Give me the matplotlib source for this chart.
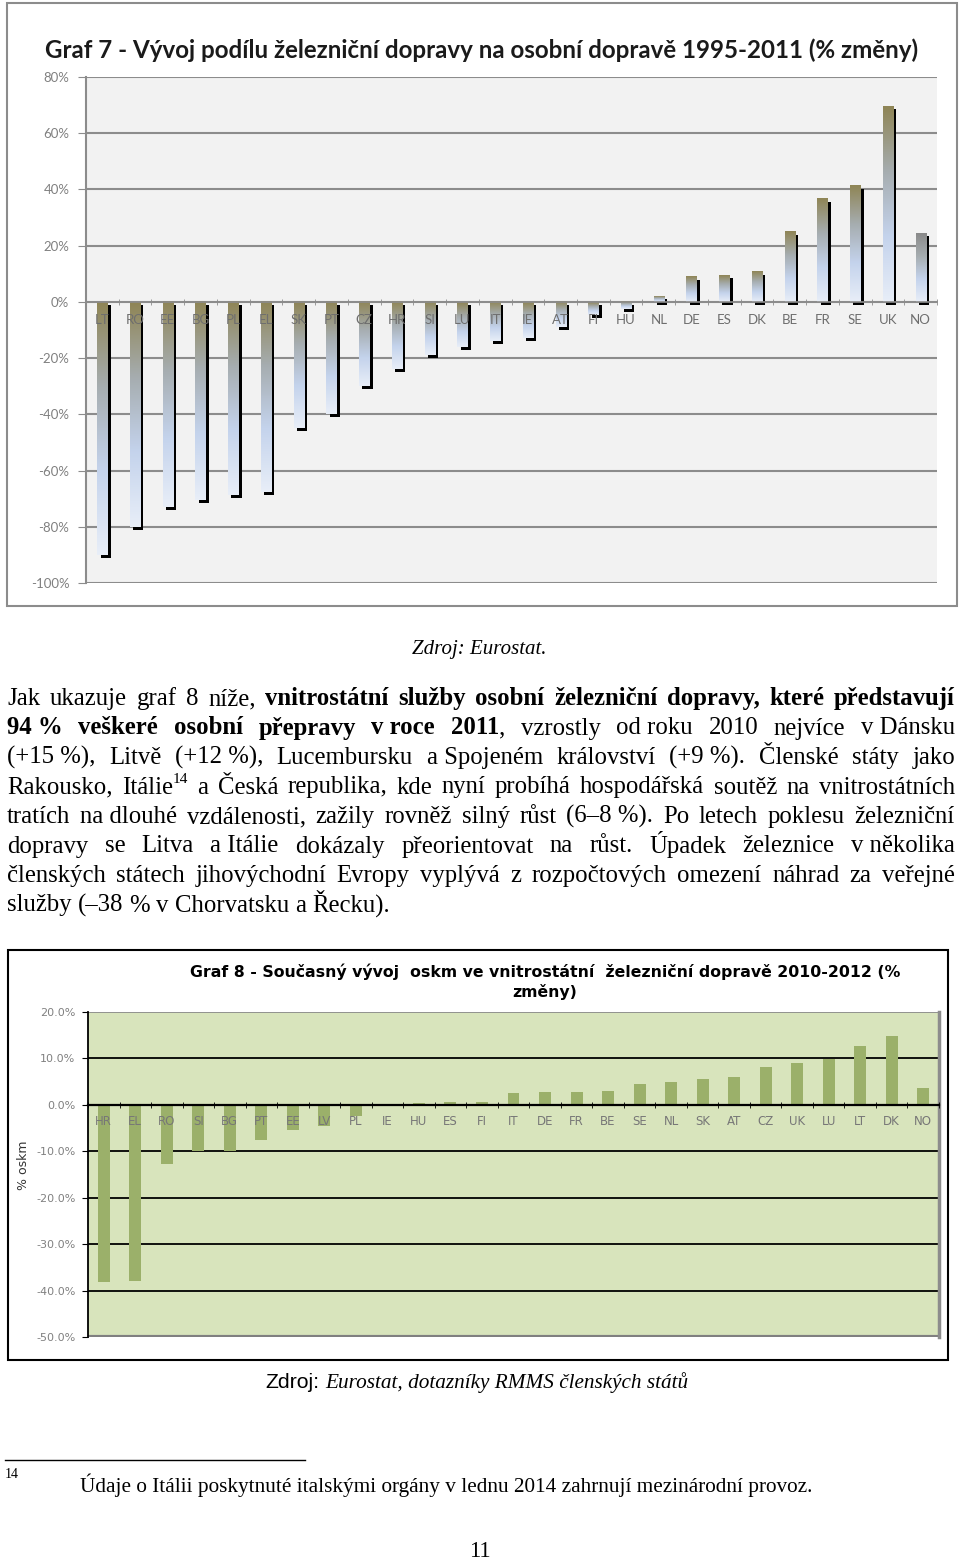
import matplotlib
matplotlib.use('Agg')
import matplotlib.pyplot as plt
import numpy as np
from matplotlib.colors import LinearSegmentedColormap
from matplotlib.patches import Rectangle

W, H = 960, 1560

# Graf 7 - share of rail in passenger transport 1995-2011 (% change)
g7_countries = ['LT', 'RO', 'EE', 'BG', 'PL', 'EL', 'SK', 'PT', 'CZ', 'HR', 'SI', 'LU', 'IT',
                'IE', 'AT', 'FI', 'HU', 'NL', 'DE', 'ES', 'DK', 'BE', 'FR', 'SE', 'UK', 'NO']
g7_values = [-90, -80, -73, -70.5, -68.7, -67.7, -45, -40, -30, -24, -19, -16, -14,
             -12.8, -9, -4.6, -2.5, 2, 9, 9.6, 10.7, 25, 36.7, 41.3, 69.7, 24.5]
g7_ticks = [80, 60, 40, 20, 0, -20, -40, -60, -80, -100]
g7_ticklabels = ['80%', '60%', '40%', '20%', '0%', '-20%', '-40%', '-60%', '-80%', '-100%']

# Graf 8 - current development of pkm in domestic rail 2010-2012 (% change)
g8_countries = ['HR', 'EL', 'RO', 'SI', 'BG', 'PT', 'EE', 'LV', 'PL', 'IE', 'HU', 'ES', 'FI', 'IT',
                'DE', 'FR', 'BE', 'SE', 'NL', 'SK', 'AT', 'CZ', 'UK', 'LU', 'LT', 'DK', 'NO']
g8_values = [-38.2, -38.0, -12.7, -10, -10, -7.5, -5.4, -4.6, -2.5, 0, 0.3, 0.6, 0.7, 2.5,
             2.7, 2.8, 3.0, 4.5, 5.0, 5.5, 6.0, 8.2, 9.1, 9.8, 12.7, 14.8, 3.7]
g8_ticks = [20, 10, 0, -10, -20, -30, -40, -50]
g8_ticklabels = ['20.0%', '10.0%', '0.0%', '-10.0%', '-20.0%', '-30.0%', '-40.0%', '-50.0%']

# page text, '*' = bold part, '^' = superscript part, '|' joins parts, '~' fixed space
para_lines = [
    "Jak ukazuje graf 8 níže, *vnitrostátní *služby *osobní *železniční *dopravy, *které *představují",
    "*94~% *veškeré *osobní *přepravy *v~roce *2011|, vzrostly od~roku 2010 nejvíce v~Dánsku",
    "(+15~%), Litvě (+12~%), Lucembursku a~Spojeném království (+9~%). Členské státy jako",
    "Rakousko, Itálie|^14 a Česká republika, kde nyní probíhá hospodářská soutěž na vnitrostátních",
    "tratích na~dlouhé vzdálenosti, zažily rovněž silný růst (6–8~%). Po letech poklesu železniční",
    "dopravy se Litva a~Itálie dokázaly přeorientovat na růst. Úpadek železnice v~několika",
    "členských státech jihovýchodní Evropy vyplývá z rozpočtových omezení náhrad za veřejné",
    "služby (–38 % v Chorvatsku a Řecku).",
]
footnote = "Údaje o Itálii poskytnuté italskými orgány v lednu 2014 zahrnují mezinárodní provoz."

SERIF = 'Liberation Serif'
PSIZE = 17.8
SMALL = 15.3


def box(x0, y0, x1, y1):
    return [x0 / W, 1 - y1 / H, (x1 - x0) / W, (y1 - y0) / H]


fig = plt.figure(figsize=(9.6, 15.6), dpi=100)
bg = fig.add_axes([0, 0, 1, 1], zorder=0)
bg.set_xlim(0, W)
bg.set_ylim(H, 0)
bg.axis('off')
rend = fig.canvas.get_renderer()


def make_part(s, size):
    kw = dict(fontsize=size, family=SERIF, va='baseline', ha='left', color='black')
    dy = 0
    if s.startswith('*'):
        kw['fontweight'] = 'bold'
        s = s[1:]
    elif s.startswith('^'):
        kw['fontsize'] = size * 0.62
        dy = -size * 0.6
        s = s[1:]
    t = bg.text(0, 0, s.replace('~', ' '), **kw)
    return t, t.get_window_extent(rend).width, dy


def draw_line(line, x0, x1, y, size, justify=True):
    words = []
    for w in line.split(' '):
        parts = [make_part(p, size) for p in w.split('|')]
        words.append((parts, sum(p[1] for p in parts)))
    total = sum(w[1] for w in words)
    if justify and len(words) > 1:
        gap = (x1 - x0 - total) / (len(words) - 1)
    else:
        gap = size * 100 / 72 * 0.25
    x = x0
    for parts, ww in words:
        px = x
        for t, pw, dy in parts:
            t.set_position((px, y + dy))
            px += pw
        x += ww + gap


# ---------- chart 7 ----------
bg.add_patch(Rectangle((7, 3), 950, 603, fill=True, facecolor='white', edgecolor='#8c8c8c', lw=1.5))
bg.text(482, 50, 'Graf 7 - Vývoj podílu železniční dopravy na osobní dopravě 1995-2011 (% změny)',
        ha='center', va='center', fontsize=17.4, fontweight='bold', family='Lato', color='#1a1a1a')

ax1 = fig.add_axes(box(86, 77, 937, 583), zorder=1)
ax1.set_facecolor('#f2f2f2')
x1 = np.arange(len(g7_countries))
ax1.bar(x1 + 0.1, g7_values, width=0.31, bottom=-1.1, color='black', zorder=2)
bars1 = ax1.bar(x1, g7_values, width=0.31, color='none', zorder=2.2)
grad = np.linspace(0, 1, 128).reshape(-1, 1)
for b, c in zip(bars1, g7_countries):
    top = '#8a8a8a' if c == 'NO' else '#8f8556'
    cmap = LinearSegmentedColormap.from_list('g', [top, '#a6adb0', '#c4d3ec', '#e8eef8'])
    bx, bw = b.get_x(), b.get_width()
    ylo, yhi = sorted([b.get_y(), b.get_y() + b.get_height()])
    ax1.imshow(grad, extent=[bx, bx + bw, ylo, yhi], origin='upper', aspect='auto',
               cmap=cmap, zorder=2.2, interpolation='bilinear')
ax1.set_xlim(-0.5, len(g7_countries) - 0.5)
ax1.set_ylim(-100, 80)
ax1.set_yticks(g7_ticks)
ax1.set_yticklabels(g7_ticklabels)
ax1.set_xticks(x1)
ax1.set_xticklabels(g7_countries)
ax1.set_xticks(np.arange(-0.5, len(g7_countries)), minor=True)
ax1.grid(axis='y', color='#8c8c8c', lw=1.5)
ax1.set_axisbelow(True)
for s in ['top', 'right']:
    ax1.spines[s].set_visible(False)
ax1.spines['left'].set_color('#8c8c8c')
ax1.spines['left'].set_linewidth(1.5)
ax1.spines['bottom'].set_position(('data', 0))
ax1.spines['bottom'].set_color('#8c8c8c')
ax1.spines['bottom'].set_linewidth(1.2)
ax1.tick_params(axis='x', which='major', length=0, pad=9, labelsize=9.5, labelcolor='#6e6e6e')
ax1.tick_params(axis='x', which='minor', length=5, direction='inout', color='#8c8c8c')
ax1.tick_params(axis='y', length=6, color='#8c8c8c', labelsize=9.5, labelcolor='#808080', pad=6)
for lbl in ax1.get_xticklabels() + ax1.get_yticklabels():
    lbl.set_family('Lato')
ax1.xaxis.set_zorder(3)

# ---------- text block ----------
bg.text(412, 654, 'Zdroj: Eurostat.', fontsize=SMALL - 0.3, family=SERIF, style='italic', va='baseline')
for i, line in enumerate(para_lines):
    draw_line(line, 7, 955, 705 + i * 29.5, PSIZE, justify=(i < len(para_lines) - 1))

# ---------- chart 8 ----------
bg.add_patch(Rectangle((8, 950), 940, 410, fill=True, facecolor='white', edgecolor='black', lw=1.5))
bg.text(545, 964, 'Graf 8 - Současný vývoj  oskm ve vnitrostátní  železniční dopravě 2010-2012 (%\nzměny)',
        ha='center', va='top', fontsize=11.3, fontweight='bold', family='DejaVu Sans',
        color='black', linespacing=1.3)

ax2 = fig.add_axes(box(88, 1012, 939, 1337), zorder=1)
ax2.set_facecolor('#d8e4bc')
x2 = np.arange(len(g8_countries))
ax2.bar(x2, g8_values, width=0.38, color='#9bb06a', zorder=2)
ax2.set_xlim(-0.5, len(g8_countries) - 0.5)
ax2.set_ylim(-50, 20)
ax2.set_yticks(g8_ticks)
ax2.set_yticklabels(g8_ticklabels)
ax2.set_xticks(x2)
ax2.set_xticklabels(g8_countries)
ax2.set_xticks(np.arange(-0.5, len(g8_countries)), minor=True)
ax2.grid(axis='y', color='black', lw=1.3)
ax2.set_axisbelow(True)
glines = ax2.get_ygridlines()
glines[0].set_color('#8c8c8c')
glines[-1].set_color('#808080')
glines[-1].set_linewidth(3)
ax2.spines['top'].set_visible(False)
ax2.spines['right'].set_color('#8c8c8c')
ax2.spines['right'].set_linewidth(2.5)
ax2.spines['left'].set_color('black')
ax2.spines['left'].set_linewidth(1.3)
ax2.spines['bottom'].set_position(('data', 0))
ax2.spines['bottom'].set_color('black')
ax2.spines['bottom'].set_linewidth(1.6)
ax2.tick_params(axis='x', which='major', length=0, pad=7, labelsize=8.5, labelcolor='#777777')
ax2.tick_params(axis='x', which='minor', length=5, direction='inout', color='black')
ax2.tick_params(axis='y', length=4, color='black', labelsize=8, labelcolor='#808080', pad=5)
ax2.xaxis.set_zorder(3)
ax2.set_ylabel('% oskm', fontsize=9, color='#333333', family='DejaVu Sans')
ax2.yaxis.set_label_coords(-0.068, 0.53)

# ---------- bottom of page ----------
t = bg.text(265, 1388, 'Zdroj:', fontsize=SMALL, family='Liberation Sans', va='baseline')
zw = t.get_window_extent(rend).width
bg.text(265 + zw + 6, 1388, 'Eurostat, dotazníky RMMS členských států', fontsize=SMALL,
        family=SERIF, style='italic', va='baseline')
bg.plot([5, 305], [1460, 1460], color='black', lw=1)
bg.text(5, 1478, '14', fontsize=10, family=SERIF, va='baseline')
bg.text(80, 1492, footnote, fontsize=SMALL, family=SERIF, va='baseline')
bg.text(480, 1557, '11', fontsize=SMALL + 1, family=SERIF, va='baseline', ha='center')

fig.savefig('out.png', dpi=100)
